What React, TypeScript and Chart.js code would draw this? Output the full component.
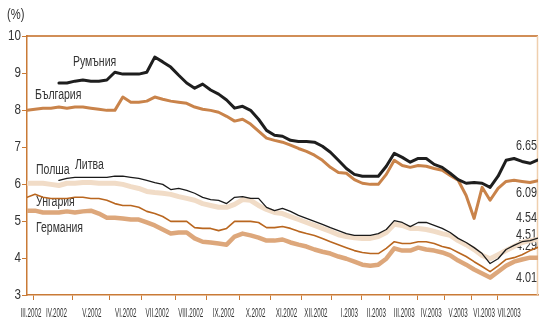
import React, { useEffect, useRef } from 'react';
import { Chart, registerables } from 'chart.js';

Chart.register(...registerables);

// x: trading-week index 0..64 (Mar 2002 – Jul 2003)
const monthLabels = [
  'III.2002', 'IV.2002', 'V.2002', 'VI.2002', 'VII.2002', 'VIII.2002', 'IX.2002', 'X.2002',
  'XI.2002', 'XII.2002', 'I.2003', 'II.2003', 'III.2003', 'IV.2003', 'V.2003', 'VI.2003', 'VII.2003',
];
const monthLabelAt = [0.5, 3.69, 8.125, 12.375, 16.31, 20.5, 24.625, 28.625, 32.5, 36.19, 40.375, 43.75, 47.25, 50.625, 54, 57.25, 60.375];
const monthEdges = [0.875, 5.75, 10.375, 14.375, 18.625, 22.5, 26.625, 30.5, 34.375, 38.125, 41.875, 45.375, 48.875, 52.25, 55.625, 58.875];
const axisStart = 0;
const axisEnd = 64;
const yTicks = [3, 4, 5, 6, 7, 8, 9, 10];

const romania = [
  null, null, null, null,
  8.73, 8.73, 8.78, 8.81, 8.78, 8.78, 8.81, 9.02, 8.97, 8.97,
  8.97, 9.02, 9.43, 9.30, 9.16, 8.94, 8.73, 8.59, 8.70, 8.54,
  8.43, 8.27, 8.05, 8.10, 7.99, 7.75, 7.45, 7.32, 7.29, 7.18,
  7.15, 7.15, 7.13, 7.02, 6.86, 6.64, 6.42, 6.26, 6.21, 6.21,
  6.21, 6.48, 6.83, 6.72, 6.59, 6.69, 6.69, 6.53, 6.45, 6.29,
  6.12, 6.02, 6.04, 6.02, 5.91, 6.21, 6.64, 6.69, 6.61, 6.56,
  6.65,
];
const bulgaria = [
  7.99, 8.02, 8.05, 8.05, 8.08, 8.05, 8.08, 8.08, 8.05, 8.02,
  7.99, 7.99, 8.35, 8.21, 8.21, 8.24, 8.35, 8.29, 8.24, 8.21,
  8.18, 8.08, 8.02, 7.99, 7.94, 7.83, 7.70, 7.75, 7.62, 7.43,
  7.24, 7.18, 7.13, 7.05, 6.96, 6.88, 6.78, 6.64, 6.45, 6.31,
  6.29, 6.12, 6.02, 5.99, 5.99, 6.26, 6.64, 6.50, 6.45, 6.50,
  6.48, 6.42, 6.37, 6.23, 6.10, 5.69, 5.07, 5.91, 5.56, 5.88,
  6.07, 6.10, 6.07, 6.04, 6.09,
];
const lithuania = [
  null, null, null, null,
  6.10, 6.15, 6.18, 6.18, 6.18, 6.18, 6.18, 6.21, 6.21, 6.18,
  6.15, 6.10, 6.04, 5.99, 5.85, 5.88, 5.83, 5.75, 5.64, 5.58,
  5.56, 5.47, 5.64, 5.66, 5.61, 5.61, 5.37, 5.28, 5.34, 5.26,
  5.15, 5.07, 4.99, 4.91, 4.82, 4.74, 4.66, 4.61, 4.61, 4.61,
  4.66, 4.77, 5.01, 4.96, 4.85, 4.96, 4.96, 4.88, 4.80, 4.69,
  4.53, 4.42, 4.28, 4.12, 3.85, 3.98, 4.23, 4.34, 4.44, 4.47,
  4.54,
];
const poland = [
  6.02, 6.02, 6.02, 5.99, 5.96, 6.02, 6.02, 6.04, 6.04, 6.02,
  6.02, 6.02, 5.99, 5.93, 5.88, 5.80, 5.77, 5.75, 5.72, 5.66,
  5.61, 5.56, 5.47, 5.42, 5.37, 5.37, 5.45, 5.58, 5.56, 5.42,
  5.31, 5.23, 5.20, 5.12, 5.04, 4.96, 4.88, 4.80, 4.72, 4.63,
  4.58, 4.55, 4.53, 4.53, 4.58, 4.69, 4.91, 4.88, 4.80, 4.80,
  4.77, 4.72, 4.66, 4.61, 4.47, 4.36, 4.23, 4.07, 3.98, 4.09,
  4.20, 4.31, 4.42, 4.47, 4.51,
];
const hungary = [
  5.64, 5.72, 5.64, 5.61, 5.61, 5.61, 5.64, 5.64, 5.61, 5.61,
  5.56, 5.47, 5.42, 5.42, 5.37, 5.26, 5.20, 5.12, 4.99, 4.99,
  4.99, 4.82, 4.80, 4.80, 4.74, 4.80, 4.99, 4.99, 4.99, 4.96,
  4.82, 4.82, 4.85, 4.80, 4.72, 4.66, 4.61, 4.53, 4.44, 4.36,
  4.28, 4.20, 4.15, 4.12, 4.12, 4.26, 4.44, 4.39, 4.39, 4.44,
  4.44, 4.39, 4.31, 4.26, 4.15, 4.04, 3.90, 3.77, 3.63, 3.79,
  3.96, 4.01, 4.09, 4.20, 4.29,
];
const germany = [
  5.28, 5.28, 5.23, 5.23, 5.23, 5.26, 5.23, 5.26, 5.28, 5.20,
  5.09, 5.09, 5.07, 5.04, 5.04, 4.96, 4.88, 4.77, 4.66, 4.69,
  4.69, 4.53, 4.44, 4.42, 4.39, 4.36, 4.58, 4.66, 4.61, 4.55,
  4.47, 4.47, 4.50, 4.42, 4.36, 4.31, 4.23, 4.17, 4.12, 4.04,
  3.98, 3.90, 3.82, 3.79, 3.82, 3.98, 4.26, 4.20, 4.20, 4.28,
  4.23, 4.20, 4.15, 4.07, 3.93, 3.82, 3.69, 3.58, 3.47, 3.63,
  3.79, 3.90, 3.96, 4.01, 4.01,
];

const seriesNames = ['Румъния', 'България', 'Литва', 'Полша', 'Унгария', 'Германия'];
const endValues = ['6.65', '6.09', '4.54', '4.51', '4.29', '4.01'];

// label anchors in data units
const nameAnchors = [
  { x: 5.75, y: 9.3 },
  { x: 1.0, y: 8.4 },
  { x: 6.0, y: 6.5 },
  { x: 1.125, y: 6.37 },
  { x: 1.125, y: 5.52 },
  { x: 1.125, y: 4.81 },
];
const endAnchors = [7.02, 5.75, 5.08, 4.63, 4.34, 3.47];

const AXIS = '#c97a36';
const TOP_LINE = '#c2691f';
const RIGHT_LINE = '#efcfae';
const TEXT = '#333333';
const FONT = '"Liberation Sans", Arial, sans-serif';

function drawText(ctx: CanvasRenderingContext2D, text: string, px: number, py: number, size: number, sx: number, align: CanvasTextAlign) {
  ctx.save();
  ctx.translate(px, py);
  ctx.scale(sx, 1);
  ctx.font = `${size}px ${FONT}`;
  ctx.textAlign = align;
  ctx.textBaseline = 'middle';
  ctx.fillStyle = TEXT;
  ctx.fillText(text, 0, 0);
  ctx.restore();
}

const textPlugin = {
  id: 'textPlugin',
  beforeDatasetsDraw(chart: any) {
    const { ctx, chartArea, scales } = chart;
    const xs = scales.x;
    const ys = scales.y;
    ctx.save();
    // frame
    ctx.lineWidth = 1.5;
    ctx.strokeStyle = TOP_LINE;
    ctx.beginPath();
    ctx.moveTo(chartArea.left, chartArea.top);
    ctx.lineTo(chartArea.right, chartArea.top);
    ctx.stroke();
    ctx.strokeStyle = RIGHT_LINE;
    ctx.beginPath();
    ctx.moveTo(chartArea.right - 0.5, chartArea.top);
    ctx.lineTo(chartArea.right - 0.5, chartArea.bottom);
    ctx.stroke();

    // axis unit
    drawText(ctx, '(%)', chartArea.left - 20, chartArea.top - 21, 14, 0.8, 'left');

    // y labels
    yTicks.forEach((v) => {
      drawText(ctx, String(v), chartArea.left - 6, ys.getPixelForValue(v), 14, 0.83, 'right');
    });

    // month labels
    monthLabels.forEach((lab, i) => {
      drawText(ctx, lab, xs.getPixelForValue(monthLabelAt[i]), chartArea.bottom + 19, 12, 0.52, 'center');
    });

    // series names
    seriesNames.forEach((n, i) => {
      const a = nameAnchors[i];
      drawText(ctx, n, xs.getPixelForValue(a.x), ys.getPixelForValue(a.y), 14, 0.75, 'left');
    });

    // end values
    endValues.forEach((t, i) => {
      drawText(ctx, t, chartArea.right - 1, ys.getPixelForValue(endAnchors[i]), 15, 0.72, 'right');
    });
    ctx.restore();
  },
};

const toPoints = (arr: (number | null)[]) => arr.map((v, i) => ({ x: i, y: v }));

export default function App() {
  const ref = useRef<HTMLCanvasElement | null>(null);

  useEffect(() => {
    if (!ref.current) return;
    const chart = new Chart(ref.current, {
      type: 'line',
      data: {
        datasets: [
          { label: 'Литва', data: toPoints(lithuania), borderColor: '#1a1a1a', borderWidth: 1.3, order: 0 },
          { label: 'Румъния', data: toPoints(romania), borderColor: '#1e1e1e', borderWidth: 3, order: 1 },
          { label: 'Унгария', data: toPoints(hungary), borderColor: '#b9661f', borderWidth: 1.6, order: 2 },
          { label: 'България', data: toPoints(bulgaria), borderColor: '#c9834a', borderWidth: 3, order: 3 },
          { label: 'Германия', data: toPoints(germany), borderColor: '#dda77b', borderWidth: 4.5, order: 4 },
          { label: 'Полша', data: toPoints(poland), borderColor: '#f1dcc7', borderWidth: 5, order: 5 },
        ] as any,
      },
      options: {
        responsive: false,
        animation: false,
        layout: { padding: { left: 22, right: 2, top: 36, bottom: 18 } },
        plugins: { legend: { display: false }, tooltip: { enabled: false } },
        elements: { point: { radius: 0 }, line: { tension: 0, borderJoinStyle: 'round', borderCapStyle: 'round' } },
        scales: {
          x: {
            type: 'linear',
            min: axisStart,
            max: axisEnd,
            grid: { display: true, drawOnChartArea: false, drawTicks: true, tickLength: 5, color: AXIS, lineWidth: 1 },
            border: { color: AXIS, width: 1.5 },
            ticks: { display: false },
            afterBuildTicks: (axis: any) => {
              axis.ticks = monthEdges.map((v) => ({ value: v }));
            },
          },
          y: {
            type: 'linear',
            min: 3,
            max: 10,
            ticks: { display: false, stepSize: 1 },
            grid: { display: true, drawOnChartArea: false, drawTicks: true, tickLength: 5, color: AXIS, lineWidth: 1 },
            border: { color: AXIS, width: 1.5 },
          },
        },
      } as any,
      plugins: [textPlugin],
    });
    return () => chart.destroy();
  }, []);

  return (
    <div style={{ position: 'absolute', left: 0, top: 0, width: 540, height: 318, background: '#fff' }}>
      <canvas ref={ref} width={540} height={318} style={{ display: 'block' }} />
    </div>
  );
}
